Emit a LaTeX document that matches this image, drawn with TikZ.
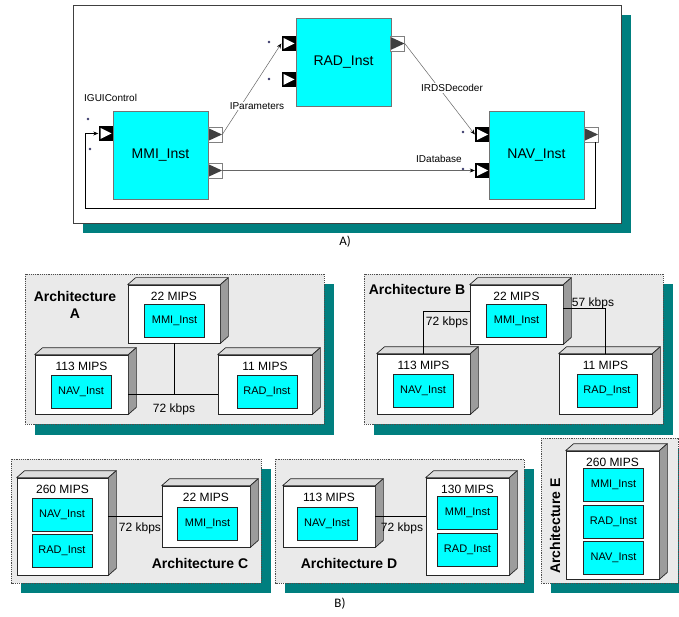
\documentclass[tikz,border=0pt]{standalone}
\usepackage{fontspec}
\setmainfont{Liberation Sans}
\newfontfamily\capfont{Carlito}
\usetikzlibrary{arrows.meta}
\definecolor{shadowc}{HTML}{007F7F}
\definecolor{groupc}{HTML}{EAEAEA}
\definecolor{hwtop}{HTML}{DCDCDC}
\definecolor{hwside}{HTML}{9C9C9C}
\definecolor{dotc}{HTML}{3A3A6A}
\definecolor{instc}{RGB}{0,255,255}
\tikzset{
  comp/.style={draw=black!55,fill=instc,line width=.8pt,inner sep=0pt,minimum width=95pt,minimum height=88pt,font=\fontsize{14}{14}\selectfont},
  inport/.style={fill=black,inner sep=0pt,minimum width=14pt,minimum height=15pt,
    path picture={\fill[white] ([xshift=2pt,yshift=-2pt]path picture bounding box.north west)--([xshift=-1pt]path picture bounding box.east)--([xshift=2pt,yshift=2pt]path picture bounding box.south west)--cycle;}},
  outport/.style={draw=black!50,fill=white,line width=.5pt,inner sep=0pt,minimum width=14pt,minimum height=15pt,
    path picture={\fill[black!75] ([yshift=-1pt]path picture bounding box.north west)--(path picture bounding box.east)--([yshift=1pt]path picture bounding box.south west)--cycle;}},
  wire/.style={draw=black!60,line width=.5pt,-{Stealth[length=5pt,width=4pt,black]}},
  iface/.style={font=\fontsize{10}{10}\selectfont,fill=white,inner sep=1pt},
  dropshade/.style={fill=shadowc},
  archbox/.style={draw=black!70,fill=groupc,dash pattern=on 1.2pt off 1pt,line width=.6pt},
  hwfront/.style={draw=black!85,fill=white,line width=.7pt,inner sep=0pt},
  hwedge/.style={draw=black!85,line width=.7pt,line join=round},
  inst/.style={draw=black!85,fill=instc,line width=.7pt,minimum width=60pt,minimum height=33pt,inner sep=0pt,font=\fontsize{11}{11}\selectfont},
  mips/.style={font=\fontsize{12}{12}\selectfont,inner sep=0pt,anchor=base},
  kbps/.style={font=\fontsize{12}{12}\selectfont,inner sep=1pt},
  arch/.style={font=\bfseries\fontsize{14}{17}\selectfont,align=center},
  link/.style={line width=.7pt},
}
% name, x, y, width, height, mips
\newcommand\hwnode[6]{%
  \node[hwfront,minimum width=#4pt,minimum height=#5pt] (#1) at (#2,#3) {};
  \draw[hwedge,fill=hwtop] (#1.north west)--++(8,-7)--([shift={(8,-7)}]#1.north east)--(#1.north east)--cycle;
  \draw[hwedge,fill=hwside] (#1.north east)--++(8,-7)--([shift={(8,-7)}]#1.south east)--(#1.south east)--cycle;
  \node[mips] (#1mips) at ([yshift=-15.5pt]#1.north) {#6};
}
\begin{document}
\begin{tikzpicture}[x=1pt,y=-1pt]
\useasboundingbox (0,0) rectangle (679,617);
% A)
\fill[dropshade] (83,15) rectangle (631,233);
\draw[fill=white,draw=black!75,line width=.7pt] (73,5) rectangle (621,223);
\node[comp] (mmi) at (160.5,155) {MMI\_Inst};
\node[comp] (rad) at (343.5,62.5) {RAD\_Inst};
\node[comp] (nav) at (536.5,155) {NAV\_Inst};
\node[inport] (mmiin) at (105.5,133.5) {};
\node[outport] (mmiout1) at (215,134.5) {};
\node[outport] (mmiout2) at (215,170.5) {};
\node[inport] (radin1) at (288.5,43.5) {};
\node[inport] (radin2) at (288.5,79.5) {};
\node[outport] (radout) at (397.5,43.5) {};
\node[inport] (navin1) at (482,134.5) {};
\node[inport] (navin2) at (482,170.5) {};
\node[outport] (navout) at (591,134.5) {};
\foreach \x/\y in {88/119,90/149,269/42,269/79,463/132,463/169} \fill[dotc] (\x,\y) circle (1.3pt);
\draw[wire] (mmiout1.east)--(radin1.west);
\draw[wire] (radout.east)--(navin1.west);
\draw[wire] (mmiout2.east)--(navin2.west);
\coordinate (fb) at (85,208);
\draw[line width=.6pt,-{Stealth[length=5pt,width=4pt]}] ([xshift=-3pt]navout.south east) |- (fb) |- (mmiin.west);
\node[iface] at (257,106) {IParameters};
\node[iface] at (452,88) {IRDSDecoder};
\node[iface] at (439,159) {IDatabase};
\node[iface,anchor=west] at (83,98) {IGUIControl};
\node[font=\capfont\fontsize{13}{13}\selectfont] at (345,242) {A)};
% B)
\fill[dropshade] (35,284) rectangle (334,435);
\fill[dropshade] (374,284) rectangle (673,435);
\fill[dropshade] (21,469) rectangle (271,593);
\fill[dropshade] (285,469) rectangle (534,593);
\fill[dropshade] (551,448) rectangle (690,593);
\draw[archbox] (25,274) rectangle (324,424);
\draw[archbox] (364,274) rectangle (663,424);
\draw[archbox] (11,459) rectangle (261,583);
\draw[archbox] (275,459) rectangle (524,583);
\draw[archbox] (541,438) rectangle (678,583);
% architecture A
\node[arch] at (75,305) {Architecture\\A};
\hwnode{mmiA}{174}{314}{92}{58}{22 MIPS}
\hwnode{navA}{81.5}{384.5}{93}{59}{113 MIPS}
\hwnode{radA}{265}{384.5}{94}{59}{11 MIPS}
\node[inst] (mmiAi) at (174.5,321) {MMI\_Inst};
\node[inst] (navAi) at (81,391.5) {NAV\_Inst};
\node[inst] (radAi) at (267,391.5) {RAD\_Inst};
\coordinate (jA) at (174,394);
\draw[link] (mmiA.south)--(jA);
\draw[link] (navA.east |- jA)--(radA.west |- jA);
\node[kbps] at (174,409) {72 kbps};
% architecture B
\node[arch] at (417,289) {Architecture B};
\hwnode{mmiB}{516.5}{314.5}{93}{59}{22 MIPS}
\hwnode{navB}{423.5}{384}{93}{60}{113 MIPS}
\hwnode{radB}{605.5}{384}{93}{60}{11 MIPS}
\node[inst] (mmiBi) at (516.5,321) {MMI\_Inst};
\node[inst] (navBi) at (423,391) {NAV\_Inst};
\node[inst] (radBi) at (607,391) {RAD\_Inst};
\draw[link] (navB.north) |- ([yshift=3.5pt]mmiB.west);
\draw[link] ([yshift=6pt]mmiB.east) -| (radB.north);
\node[kbps] at (447,322) {72 kbps};
\node[kbps] at (593,303) {57 kbps};
% architecture C
\hwnode{bigC}{62.5}{526.5}{91}{97}{260 MIPS}
\hwnode{mmiC}{206}{516.5}{88}{61}{22 MIPS}
\node[inst] (navCi) at (62,515) {NAV\_Inst};
\node[inst] (radCi) at (62,551) {RAD\_Inst};
\node[inst] (mmiCi) at (207.5,523.5) {MMI\_Inst};
\draw[link] (mmiC.west)--(mmiC.west -| bigC.east);
\node[kbps] at (140,528) {72 kbps};
\node[arch] at (200,563) {Architecture C};
% architecture D
\hwnode{navD}{329}{516.5}{92}{61}{113 MIPS}
\hwnode{bigD}{467.5}{526.5}{83}{97}{130 MIPS}
\node[inst] (navDi) at (327,523.5) {NAV\_Inst};
\node[inst] (mmiDi) at (467.5,512.5) {MMI\_Inst};
\node[inst] (radDi) at (467.5,549.5) {RAD\_Inst};
\draw[link] (navD.east)--(navD.east -| bigD.west);
\node[kbps] at (402,528) {72 kbps};
\node[arch] at (349,563) {Architecture D};
% architecture E
\node[arch,rotate=90] at (555,526) {Architecture E};
\hwnode{bigE}{612.5}{515}{93}{128}{260 MIPS}
\node[inst] (mmiEi) at (613.5,484.5) {MMI\_Inst};
\node[inst] (radEi) at (613.5,521.5) {RAD\_Inst};
\node[inst] (navEi) at (613.5,558) {NAV\_Inst};
\node[font=\capfont\fontsize{13}{13}\selectfont] at (340,604) {B)};
\end{tikzpicture}
\end{document}
